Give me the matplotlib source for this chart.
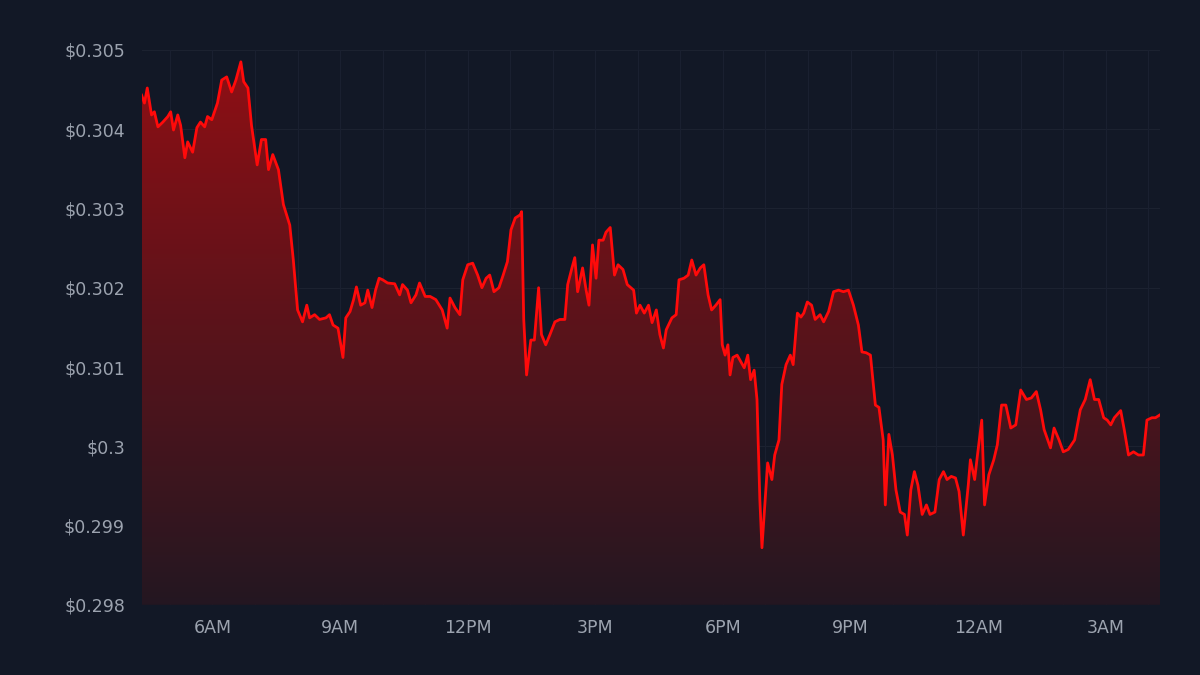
import matplotlib
matplotlib.use("Agg")
import matplotlib.pyplot as plt
import matplotlib.dates as mdates
from matplotlib.ticker import FuncFormatter
from matplotlib.patches import Polygon
import numpy as np
import pandas as pd

prices = [0.30443,0.30433,0.30452,0.30418,0.30422,0.30403,0.30409,0.30416,0.30422,0.30399,0.30418,0.30405,0.30364,0.30384,0.30371,0.30402,0.30409,0.30403,0.30416,0.30412,0.30433,0.30462,0.30466,0.30447,0.30462,0.30485,0.30460,0.30452,0.30405,0.30355,0.30387,0.30387,0.30349,0.30368,0.30349,0.30305,0.30279,0.30235,0.30172,0.30157,0.30178,0.30162,0.30166,0.30160,0.30162,0.30166,0.30153,0.30149,0.30112,0.30162,0.30170,0.30185,0.30201,0.30178,0.30181,0.30197,0.30175,0.30197,0.30212,0.30210,0.30206,0.30205,0.30191,0.30204,0.30197,0.30181,0.30191,0.30206,0.30189,0.30189,0.30185,0.30172,0.30149,0.30187,0.30175,0.30166,0.30210,0.30229,0.30231,0.30216,0.30200,0.30212,0.30216,0.30195,0.30200,0.30216,0.30233,0.30273,0.30288,0.30292,0.30296,0.30160,0.30090,0.30134,0.30134,0.30200,0.30141,0.30128,0.30141,0.30157,0.30160,0.30160,0.30204,0.30225,0.30238,0.30195,0.30225,0.30197,0.30178,0.30254,0.30212,0.30260,0.30260,0.30270,0.30276,0.30216,0.30229,0.30223,0.30204,0.30197,0.30168,0.30178,0.30168,0.30178,0.30156,0.30172,0.30141,0.30124,0.30147,0.30162,0.30166,0.30210,0.30212,0.30216,0.30235,0.30216,0.30225,0.30229,0.30191,0.30172,0.30178,0.30185,0.30128,0.30115,0.30128,0.30090,0.30112,0.30115,0.30107,0.30099,0.30115,0.30084,0.30096,0.30059,0.29933,0.29872,0.29926,0.29979,0.29958,0.29989,0.30008,0.30078,0.30103,0.30115,0.30103,0.30168,0.30163,0.30168,0.30182,0.30178,0.30160,0.30166,0.30157,0.30170,0.30195,0.30197,0.30195,0.30197,0.30178,0.30153,0.30119,0.30118,0.30115,0.30052,0.30049,0.30008,0.29926,0.30015,0.29989,0.29945,0.29917,0.29914,0.29888,0.29945,0.29968,0.29951,0.29914,0.29926,0.29914,0.29917,0.29958,0.29968,0.29958,0.29962,0.29960,0.29943,0.29888,0.29951,0.29983,0.29958,0.29989,0.30033,0.29926,0.29964,0.29983,0.30002,0.30052,0.30052,0.30023,0.30027,0.30071,0.30059,0.30061,0.30069,0.30046,0.30021,0.29998,0.30023,0.30008,0.29993,0.29996,0.30008,0.30046,0.30059,0.30084,0.30059,0.30059,0.30036,0.30033,0.30027,0.30036,0.30045,0.30021,0.29989,0.29993,0.29989,0.29989,0.30033,0.30036,0.30036,0.30040]
minutes = [0,4,8,14,18,23,30,37,41,45,51,55,61,65,72,78,83,89,93,99,107,113,120,127,133,140,144,150,155,163,169,175,179,185,193,200,209,214,220,227,233,237,244,251,260,265,270,277,284,288,294,299,303,309,315,319,325,330,335,340,347,357,364,368,375,380,387,392,400,407,415,424,431,435,442,449,453,460,467,474,480,486,491,497,504,510,516,521,527,534,536,539,543,549,554,560,564,570,576,583,590,597,601,607,611,615,622,627,631,636,641,645,651,655,661,667,672,679,685,694,698,703,709,715,720,726,731,736,740,748,754,758,765,771,776,782,788,793,799,804,810,816,819,823,827,830,834,840,845,850,855,859,864,868,872,875,879,883,889,893,899,903,909,915,919,925,930,934,939,945,950,957,962,969,976,983,990,997,1004,1011,1016,1022,1028,1035,1040,1046,1049,1054,1059,1064,1070,1076,1080,1085,1090,1095,1101,1107,1112,1119,1125,1131,1136,1142,1148,1153,1159,1166,1169,1175,1179,1185,1189,1195,1202,1207,1213,1219,1226,1233,1240,1248,1255,1262,1268,1273,1282,1287,1294,1300,1307,1316,1324,1331,1338,1344,1350,1357,1362,1367,1372,1381,1386,1392,1399,1406,1413,1418,1425,1430,1437]
start_time = "2024-01-01 04:20"
y_ticks = [0.298, 0.299, 0.300, 0.301, 0.302, 0.303, 0.304, 0.305]
x_tick_labels = ["6AM", "9AM", "12PM", "3PM", "6PM", "9PM", "12AM", "3AM"]

n = min(len(prices), len(minutes))
times = pd.Timestamp(start_time) + pd.to_timedelta(minutes[:n], unit="min")
x = mdates.date2num(times)
y = np.array(prices[:n])

bg = "#121826"
fig = plt.figure(figsize=(12, 6.75), dpi=100, facecolor=bg)
ax = fig.add_axes([0.118, 0.104, 0.849, 0.822], facecolor=bg)

ymin, ymax = 0.298, 0.305
ax.set_xlim(x[0], x[-1])
ax.set_ylim(ymin, ymax)

grad = np.linspace(1, 0, 256).reshape(-1, 1)
top = np.array([0.56, 0.06, 0.08])
bot = np.array([0.14, 0.09, 0.13])
img = top * grad[..., None] + bot * (1 - grad[..., None])
im = ax.imshow(img, extent=[x[0], x[-1], ymin, y.max()], aspect="auto", origin="upper", zorder=1)
poly = Polygon(np.column_stack([np.r_[x[0], x, x[-1]], np.r_[ymin, y, ymin]]), closed=True,
               transform=ax.transData, facecolor="none", edgecolor="none")
ax.add_patch(poly)
im.set_clip_path(poly)

ax.plot(x, y, color="#ff0a0a", lw=2, zorder=3)

for yt in y_ticks:
    ax.axhline(yt, color="#1c2230", lw=0.8, zorder=0)
hours = pd.date_range("2024-01-01 05:00", "2024-01-02 04:00", freq="1h")
for h in hours:
    ax.axvline(mdates.date2num(h), color="#1a2030", lw=0.8, zorder=0)

ax.set_yticks(y_ticks)
ax.yaxis.set_major_formatter(FuncFormatter(lambda v, p: "$" + ("%.3f" % v).rstrip("0").rstrip(".")))
tick_times = pd.date_range("2024-01-01 06:00", periods=len(x_tick_labels), freq="3h")
ax.set_xticks(mdates.date2num(tick_times))
ax.set_xticklabels(x_tick_labels)
ax.tick_params(colors="#9ca3af", labelsize=12.5, length=0, pad=12)
ax.tick_params(axis="x", pad=10)
for s in ax.spines.values():
    s.set_visible(False)

fig.savefig("out.png", dpi=100, facecolor=bg)
